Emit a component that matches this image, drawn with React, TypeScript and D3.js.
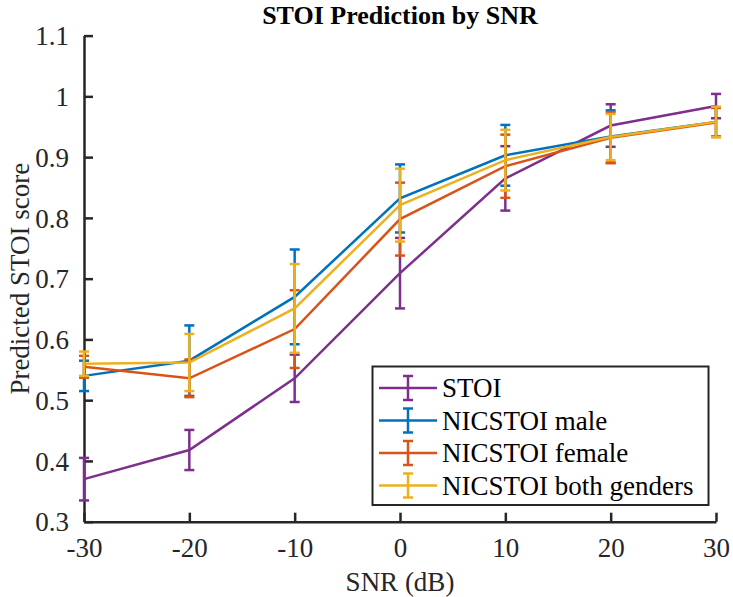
import React, { useEffect, useRef } from "react";
import * as d3 from "d3";

// SNR levels (dB)
const snr = [-30, -20, -10, 0, 10, 20, 30];

// mean predicted score + half-width of the error bar, per series
const stoiMean = [0.370, 0.418, 0.536, 0.709, 0.865, 0.952, 0.984];
const stoiErr = [0.035, 0.033, 0.039, 0.058, 0.053, 0.035, 0.020];
const maleMean = [0.540, 0.565, 0.670, 0.832, 0.903, 0.934, 0.958];
const maleErr = [0.025, 0.058, 0.078, 0.056, 0.050, 0.043, 0.024];
const femaleMean = [0.555, 0.536, 0.617, 0.798, 0.885, 0.932, 0.957];
const femaleErr = [0.018, 0.031, 0.064, 0.060, 0.052, 0.042, 0.024];
const bothMean = [0.560, 0.562, 0.651, 0.821, 0.895, 0.933, 0.958];
const bothErr = [0.020, 0.047, 0.073, 0.060, 0.050, 0.038, 0.025];

const seriesNames = ["STOI", "NICSTOI male", "NICSTOI female", "NICSTOI both genders"];
const seriesColors = ["#7E2F8E", "#0072BD", "#D95319", "#EDB120"];

const xTicks = [-30, -20, -10, 0, 10, 20, 30];
const yTicks = [0.3, 0.4, 0.5, 0.6, 0.7, 0.8, 0.9, 1, 1.1];

const FONT =
  "'Times New Roman', Times, 'Liberation Serif', Tinos, 'Nimbus Roman', 'Noto Serif', 'DejaVu Serif', serif";

const App: React.FC = () => {
  const svgRef = useRef<SVGSVGElement>(null);

  useEffect(() => {
    if (!svgRef.current) return;
    const W = 733;
    const H = 597;
    const margin = { top: 35.6, right: 17, bottom: 75.3, left: 84 };

    const svg = d3.select(svgRef.current);
    svg.selectAll("*").remove();
    svg.attr("width", W).attr("height", H).style("font-family", FONT);

    svg.append("rect").attr("width", W).attr("height", H).attr("fill", "#fff");

    const x = d3.scaleLinear().domain([-30, 30]).range([margin.left, W - margin.right]);
    const y = d3.scaleLinear().domain([0.3, 1.1]).range([H - margin.bottom, margin.top]);

    const axisColor = "#262626";
    const series = [
      { mean: stoiMean, err: stoiErr },
      { mean: maleMean, err: maleErr },
      { mean: femaleMean, err: femaleErr },
      { mean: bothMean, err: bothErr }
    ];

    // AXES (MATLAB style: ticks inside, box off)
    const yAxis = svg
      .append("g")
      .attr("transform", `translate(${margin.left},0)`)
      .call(
        d3.axisLeft(y).tickValues(yTicks).tickSizeInner(-9).tickSizeOuter(0)
          .tickPadding(15).tickFormat(d => String(+d))
      );
    const xAxis = svg
      .append("g")
      .attr("transform", `translate(0,${H - margin.bottom})`)
      .call(
        d3.axisBottom(x).tickValues(xTicks).tickSizeInner(-9).tickSizeOuter(0)
          .tickPadding(16).tickFormat(d => String(+d))
      );

    [xAxis, yAxis].forEach(ax => {
      ax.attr("font-family", null).attr("font-size", 27);
      ax.select(".domain").attr("stroke", axisColor).attr("stroke-width", 2.5);
      ax.selectAll(".tick line").attr("stroke", axisColor).attr("stroke-width", 2.5);
      ax.selectAll(".tick text").attr("fill", axisColor);
    });
    yAxis.selectAll(".tick text").attr("dy", "0.34em");

    // LINES + ERROR BARS
    const line = d3
      .line<number>()
      .x((_, i) => x(snr[i]))
      .y(d => y(d));

    const capW = 5;
    series.forEach((s, si) => {
      const g = svg.append("g").attr("stroke", seriesColors[si]).attr("fill", "none")
        .attr("stroke-width", 2.5);
      g.append("path").attr("d", line(s.mean));
      snr.forEach((v, i) => {
        const cx = x(v);
        const top = y(s.mean[i] + s.err[i]);
        const bot = y(s.mean[i] - s.err[i]);
        g.append("line").attr("x1", cx).attr("x2", cx).attr("y1", top).attr("y2", bot);
        g.append("line").attr("x1", cx - capW).attr("x2", cx + capW).attr("y1", top).attr("y2", top);
        g.append("line").attr("x1", cx - capW).attr("x2", cx + capW).attr("y1", bot).attr("y2", bot);
      });
    });

    // TITLE + LABELS
    svg.append("text")
      .attr("x", x(0)).attr("y", 24)
      .attr("text-anchor", "middle")
      .attr("font-size", 26).attr("font-weight", "bold")
      .attr("fill", "#000")
      .text("STOI Prediction by SNR");

    svg.append("text")
      .attr("x", x(0)).attr("y", 591)
      .attr("text-anchor", "middle")
      .attr("font-size", 27)
      .attr("fill", axisColor)
      .text("SNR (dB)");

    svg.append("text")
      .attr("transform", `translate(29,${y(0.7)}) rotate(-90)`)
      .attr("text-anchor", "middle")
      .attr("font-size", 27)
      .attr("fill", axisColor)
      .text("Predicted STOI score");

    // LEGEND
    const leg = svg.append("g");
    leg.append("rect")
      .attr("x", 372.5).attr("y", 366.5)
      .attr("width", 336).attr("height", 138.5)
      .attr("fill", "#fff").attr("stroke", axisColor).attr("stroke-width", 2);
    seriesNames.forEach((name, i) => {
      const cy = 388 + i * 32.5;
      const row = leg.append("g").attr("stroke", seriesColors[i]).attr("stroke-width", 2.5);
      row.append("line").attr("x1", 379).attr("x2", 437).attr("y1", cy).attr("y2", cy);
      row.append("line").attr("x1", 408).attr("x2", 408).attr("y1", cy - 12).attr("y2", cy + 12);
      row.append("line").attr("x1", 403).attr("x2", 413).attr("y1", cy - 12).attr("y2", cy - 12);
      row.append("line").attr("x1", 403).attr("x2", 413).attr("y1", cy + 12).attr("y2", cy + 12);
      leg.append("text")
        .attr("x", 442).attr("y", cy + 9)
        .attr("font-size", 27)
        .attr("fill", "#000")
        .text(name);
    });
  }, []);

  return (
    <svg ref={svgRef} style={{ position: "absolute", left: 0, top: 0, display: "block" }}></svg>
  );
};

export default App;
